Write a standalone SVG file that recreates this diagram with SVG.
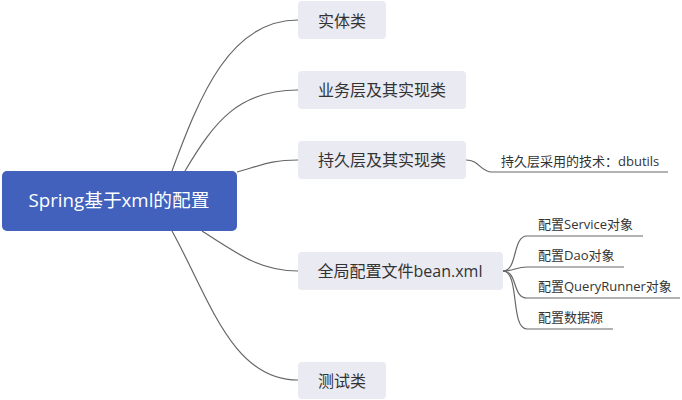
<svg xmlns="http://www.w3.org/2000/svg" width="682" height="400" viewBox="0 0 682 400">
<style>
.conn{fill:none;stroke:#666;stroke-width:1.2}
.node{fill:#e9eaf2}
.root{fill:#4161bd}
text{font-family:"Open Sans","Noto Sans CJK SC",sans-serif;fill:#333}
.t16{font-size:16px;text-anchor:middle}
.t13{font-size:13px}
.rt{font-size:18.7px;fill:#fff;text-anchor:middle}
</style>
<rect width="682" height="400" fill="#fff"/>
<g id="connectors">
<path class="conn" d="M172,171 C200,95 230,20 298,20"/>
<path class="conn" d="M185,171 C215,120 240,90 298,90"/>
<path class="conn" d="M237,172 C262,165 272,160 298,160"/>
<path class="conn" d="M202,231 C240,256 262,271 298,271"/>
<path class="conn" d="M172,231 C210,300 232,380 298,380"/>
<path class="conn" d="M466,160 C480,160 480,172 492,172 L668,172"/>
<path class="conn" d="M503,271 C518,271 512,236 527,236 L643,236"/>
<path class="conn" d="M503,271 C514,271 516,267 527,267 L624,267"/>
<path class="conn" d="M503,271 C518,271 512,298 527,298 L680,298"/>
<path class="conn" d="M503,271 C520,271 510,329 527,329 L613,329"/>
</g>
<g id="root">
<rect class="root" x="2" y="171" width="235" height="60" rx="5"/>
<text class="rt" x="119" y="207">Spring基于xml的配置</text>
</g>
<g id="n1">
<rect class="node" x="298" y="1" width="88" height="38" rx="4"/>
<text class="t16" x="342" y="27">实体类</text>
</g>
<g id="n2">
<rect class="node" x="298" y="71" width="168" height="38" rx="4"/>
<text class="t16" x="382" y="96">业务层及其实现类</text>
</g>
<g id="n3">
<rect class="node" x="298" y="141" width="168" height="38" rx="4"/>
<text class="t16" x="382" y="166">持久层及其实现类</text>
</g>
<g id="n3a">
<text class="t13" x="501" y="166">持久层采用的技术：dbutils</text>
</g>
<g id="n4">
<rect class="node" x="298" y="252" width="205" height="38" rx="4"/>
<text class="t16" x="400" y="277">全局配置文件bean.xml</text>
</g>
<g id="n4a"><text class="t13" x="538" y="229">配置Service对象</text></g>
<g id="n4b"><text class="t13" x="538" y="260">配置Dao对象</text></g>
<g id="n4c"><text class="t13" x="538" y="291">配置QueryRunner对象</text></g>
<g id="n4d"><text class="t13" x="538" y="322">配置数据源</text></g>
<g id="n5">
<rect class="node" x="298" y="362" width="88" height="37" rx="4"/>
<text class="t16" x="342" y="387">测试类</text>
</g>
</svg>
